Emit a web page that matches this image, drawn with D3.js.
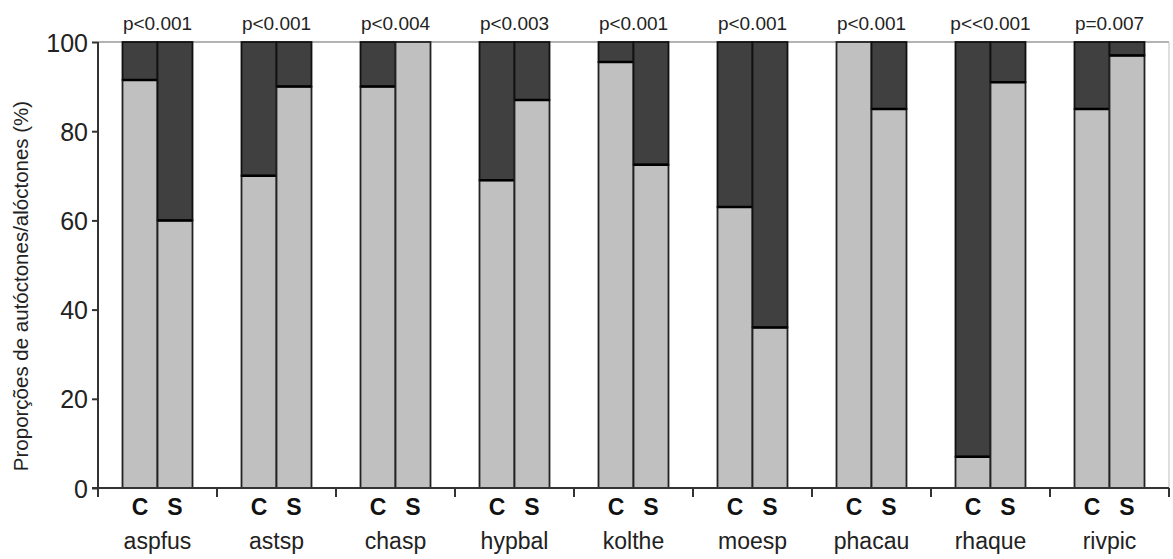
<!DOCTYPE html>
<html>
<head>
<meta charset="utf-8">
<script src="https://cdn.jsdelivr.net/npm/d3@7"></script>
<style>
  body { margin: 0; background: #fff; }
  svg { display: block; font-family: "Liberation Sans", Arial, sans-serif; }
</style>
</head>
<body>
<svg id="chart" width="1173" height="559"></svg>
<script>
// species codes and p-values
const species = ["aspfus", "astsp", "chasp", "hypbal", "kolthe", "moesp", "phacau", "rhaque", "rivpic"];
const pValues = ["p<0.001", "p<0.001", "p<0.004", "p<0.003", "p<0.001", "p<0.001", "p<0.001", "p<<0.001", "p=0.007"];
// % autóctones (light part), C and S
const autoC = [91.5, 70, 90, 69, 95.5, 63, 100, 7, 85];
const autoS = [60, 90, 100, 87, 72.5, 36, 85, 91, 97];
const yTicks = [0, 20, 40, 60, 80, 100];

(function () {
  const svg = d3.select("#chart");
  const plotL = 98, plotR = 1169, plotT = 42, plotB = 488;

  const x = d3.scaleBand().domain(species).range([plotL, plotR]).padding(0);
  const sub = d3.scaleBand().domain(["C", "S"]).range([0, x.bandwidth()]).paddingInner(0).paddingOuter(0.7);
  const y = d3.scaleLinear().domain([0, 100]).range([plotB, plotT]);

  const light = "#c0c0c0", dark = "#404040";

  // frame (top + right)
  svg.append("line").attr("x1", plotL).attr("x2", plotR).attr("y1", plotT).attr("y2", plotT)
    .attr("stroke", "#9a9a9a").attr("stroke-width", 1.5);
  svg.append("line").attr("x1", plotR).attr("x2", plotR).attr("y1", plotT).attr("y2", plotB)
    .attr("stroke", "#bdbdbd").attr("stroke-width", 1);

  const bars = [];
  species.forEach((s, i) => {
    bars.push({ sp: s, k: "C", v: autoC[i] });
    bars.push({ sp: s, k: "S", v: autoS[i] });
  });

  const g = svg.append("g");
  bars.forEach(d => {
    const bx = x(d.sp) + sub(d.k);
    const bw = sub.bandwidth();
    // dark part (alóctones)
    g.append("rect").attr("x", bx).attr("y", y(100)).attr("width", bw).attr("height", y(d.v) - y(100))
      .attr("fill", dark).attr("stroke", "#111").attr("stroke-width", 1.8);
    // light part (autóctones)
    g.append("rect").attr("x", bx).attr("y", y(d.v)).attr("width", bw).attr("height", y(0) - y(d.v))
      .attr("fill", light).attr("stroke", "#222").attr("stroke-width", 1.8);
    if (d.v > 0 && d.v < 100) {
      g.append("line").attr("x1", bx).attr("x2", bx + bw).attr("y1", y(d.v)).attr("y2", y(d.v))
        .attr("stroke", "#000").attr("stroke-width", 2.5);
    }
  });

  // y axis
  const yAxis = svg.append("g").attr("transform", `translate(${plotL},0)`)
    .call(d3.axisLeft(y).tickValues(yTicks).tickSize(6).tickPadding(4));
  yAxis.select(".domain").attr("stroke", "#333").attr("stroke-width", 2)
    .attr("d", `M0,${plotT}V${plotB + 4}`);
  yAxis.selectAll(".tick line").attr("stroke", "#333").attr("stroke-width", 2);
  yAxis.selectAll(".tick text").attr("font-size", 25).attr("fill", "#222")
    .attr("font-family", "Liberation Sans, Arial, sans-serif").attr("dy", "0.36em");

  // x axis
  const bounds = species.map(s => x(s)).concat([plotR]);
  const xAxis = svg.append("g");
  xAxis.append("line").attr("x1", plotL - 6).attr("x2", plotR).attr("y1", plotB).attr("y2", plotB)
    .attr("stroke", "#333").attr("stroke-width", 2);
  xAxis.selectAll("line.tk").data(bounds).enter().append("line").attr("class", "tk")
    .attr("x1", d => d).attr("x2", d => d).attr("y1", plotB).attr("y2", plotB + 9)
    .attr("stroke", "#333").attr("stroke-width", 2);

  // C / S labels
  bars.forEach(d => {
    svg.append("text").attr("x", x(d.sp) + sub(d.k) + sub.bandwidth() / 2).attr("y", 515)
      .attr("text-anchor", "middle").attr("font-size", 23).attr("font-weight", "bold")
      .attr("fill", "#111").text(d.k);
  });

  // species names
  svg.selectAll("text.sp").data(species).enter().append("text").attr("class", "sp")
    .attr("x", d => x(d) + x.bandwidth() / 2).attr("y", 549)
    .attr("text-anchor", "middle").attr("font-size", 23).attr("fill", "#222").text(d => d);

  // p-values
  svg.selectAll("text.pv").data(species).enter().append("text").attr("class", "pv")
    .attr("x", d => x(d) + x.bandwidth() / 2).attr("y", 30)
    .attr("text-anchor", "middle").attr("font-size", 19).attr("fill", "#222")
    .text((d, i) => pValues[i]);

  // y label
  svg.append("text").attr("transform", `translate(28,286) rotate(-90)`)
    .attr("text-anchor", "middle").attr("font-size", 20.5).attr("fill", "#222")
    .text("Proporções de autóctones/alóctones (%)");
})();
</script>
</body>
</html>
